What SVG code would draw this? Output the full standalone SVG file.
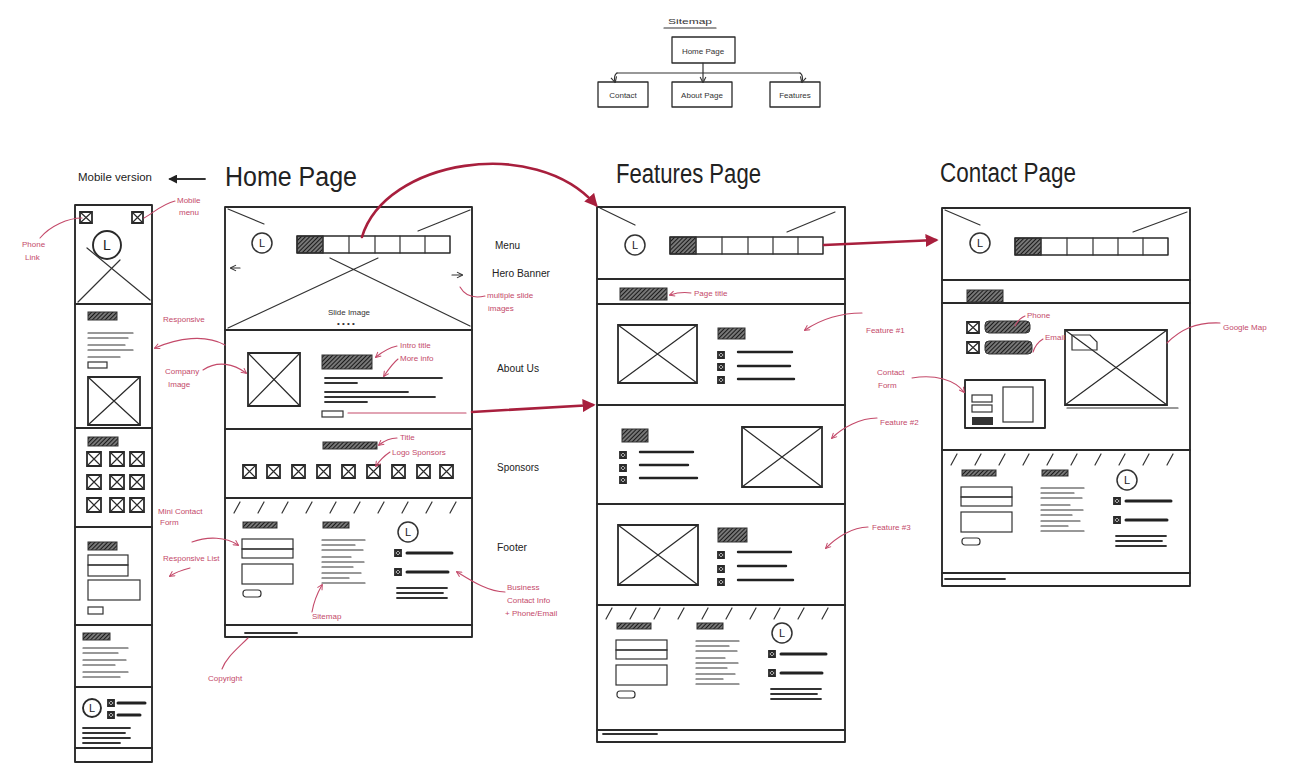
<svg xmlns="http://www.w3.org/2000/svg" xmlns:xlink="http://www.w3.org/1999/xlink" width="1304" height="765" viewBox="0 0 1304 765">
<style>
.f{fill:none;stroke:#2a2a2a;stroke-width:1.9;stroke-linecap:round;stroke-linejoin:round}
.t{fill:none;stroke:#333;stroke-width:1.2;stroke-linecap:round}
.k{fill:none;stroke:#222;stroke-width:3;stroke-linecap:round}
.m{fill:none;stroke:#333;stroke-width:1.8;stroke-linecap:round}
.h{fill:url(#hatch);stroke:#333;stroke-width:1}
.r{fill:none;stroke:#c44a6a;stroke-width:1.1;stroke-linecap:round}
.R{fill:none;stroke:#a81f3d;stroke-width:2.6;stroke-linecap:round}
.lbl{font-family:"Liberation Sans",Arial,sans-serif;font-size:10px;fill:#222}
.ttl{font-family:"Liberation Sans",Arial,sans-serif;font-size:27px;fill:#222}
.ann{font-family:"Liberation Sans",Arial,sans-serif;font-size:8px;fill:#c44a6a}
.sm{font-family:"Liberation Sans",Arial,sans-serif;font-size:8px;fill:#333}
.lg{font-family:"Liberation Sans",Arial,sans-serif;font-size:11px;fill:#222;text-anchor:middle}
</style>
<defs>
<pattern id="hatch" width="3" height="3" patternUnits="userSpaceOnUse" patternTransform="rotate(45)"><rect width="3" height="3" fill="#777"/><line x1="0" y1="0" x2="0" y2="3" stroke="#1a1a1a" stroke-width="2"/></pattern>
<marker id="aR" viewBox="0 0 10 10" refX="8" refY="5" markerWidth="5" markerHeight="5" orient="auto"><path d="M0,0 L10,5 L0,10 z" fill="#a81f3d"/></marker>
<marker id="ar" viewBox="0 0 10 10" refX="8" refY="5" markerWidth="6" markerHeight="6" orient="auto"><path d="M1,1 L9,5 L1,9" fill="none" stroke="#c44a6a" stroke-width="1.5"/></marker>
<marker id="aK" viewBox="0 0 10 10" refX="8" refY="5" markerWidth="5" markerHeight="5" orient="auto"><path d="M0,0 L10,5 L0,10 z" fill="#222"/></marker>
<marker id="ak" viewBox="0 0 10 10" refX="8" refY="5" markerWidth="6" markerHeight="6" orient="auto"><path d="M1,1 L9,5 L1,9" fill="none" stroke="#333" stroke-width="1.5"/></marker>
<symbol id="xbox" viewBox="0 0 100 100" preserveAspectRatio="none" overflow="visible">
<rect x="0" y="0" width="100" height="100" fill="none" stroke="#2a2a2a" stroke-width="1.8" vector-effect="non-scaling-stroke"/>
<path d="M0,0 L100,100 M100,0 L0,100" fill="none" stroke="#2a2a2a" stroke-width="1.2" vector-effect="non-scaling-stroke"/>
</symbol>
<g id="logo"><circle cx="0" cy="0" r="10" class="t" style="stroke-width:1.5"/><text x="0" y="4" class="lg">L</text></g>
<g id="nav">
<rect x="0" y="0" width="26" height="17" class="h"/>
<rect x="0" y="0" width="153" height="17" class="f" style="stroke-width:1.5"/>
<path d="M26,0 V17 M52,0 V17 M78,0 V17 M103,0 V17 M128,0 V17" class="t"/>
</g>
<g id="foot">
<rect x="0" y="0" width="34" height="6" class="h"/>
<rect x="-1" y="17" width="51" height="10" class="t"/>
<rect x="-1" y="27" width="51" height="9" class="t"/>
<rect x="-1" y="42" width="51" height="20" class="t"/>
<rect x="0" y="68" width="18" height="7" rx="3" class="t"/>
<rect x="80" y="0" width="26" height="6" class="h"/>
<path d="M79,18 H122 M79,23 H112 M79,28 H120 M79,35 H108 M79,40 H121 M79,45 H110 M79,51 H118 M79,56 H106 M79,61 H122" class="t"/>
<use href="#logo" x="165" y="10"/>
<use href="#xbox" x="152" y="28" width="6" height="6"/>
<path d="M164,31 H209" class="k"/>
<use href="#xbox" x="152" y="47" width="6" height="6"/>
<path d="M164,50 H205" class="k"/>
<path d="M154,66 H204 M154,71 H200 M154,76 H204" class="m"/>
</g>
<path id="slashes" d="M4,13 L10,2 M28,13 L34,2 M52,13 L58,2 M76,13 L82,2 M100,13 L106,2 M124,13 L130,2 M148,13 L154,2 M172,13 L178,2 M196,13 L202,2 M220,13 L226,2" class="t"/>
</defs>

<rect width="1304" height="765" fill="#ffffff"/>

<g id="sitemap">
<text x="668" y="24" class="sm" textLength="44" lengthAdjust="spacingAndGlyphs">Sitemap</text>
<path d="M664,28 H716" class="t"/>
<g id="sm-home"><rect x="672" y="37" width="63" height="26" class="f" style="stroke-width:1.3"/><text x="703" y="54" class="sm" text-anchor="middle">Home Page</text></g>
<g id="sm-contact"><rect x="598" y="82" width="50" height="25" class="f" style="stroke-width:1.3"/><text x="623" y="98" class="sm" text-anchor="middle">Contact</text></g>
<g id="sm-about"><rect x="672" y="82" width="60" height="25" class="f" style="stroke-width:1.3"/><text x="702" y="98" class="sm" text-anchor="middle">About Page</text></g>
<g id="sm-features"><rect x="770" y="82" width="50" height="25" class="f" style="stroke-width:1.3"/><text x="795" y="98" class="sm" text-anchor="middle">Features</text></g>
</g>

<g id="mobile">
<text x="78" y="181" class="lbl" textLength="74" lengthAdjust="spacingAndGlyphs">Mobile version</text>
<rect x="75" y="205" width="77" height="557" class="f"/>
<path d="M75,304 H152 M75,428 H152 M75,527 H152 M75,625 H152 M75,687 H152 M75,748 H152" class="f"/>
<use href="#xbox" x="80" y="212" width="12" height="11"/>
<use href="#xbox" x="132" y="212" width="11" height="11"/>
<circle cx="107" cy="245" r="14" class="f"/><text x="107" y="250" class="lg" style="font-size:14px">L</text>
<path d="M78,302 L120,260 M87,248 L150,300" class="t"/>
<rect x="88" y="312" width="29" height="8" class="h"/>
<path d="M88,333 H133 M88,338 H128 M88,345 H125 M88,350 H133 M88,357 H120" class="t"/>
<rect x="88" y="362" width="19" height="6" class="t"/>
<use href="#xbox" x="88" y="377" width="52" height="48"/>
<rect x="88" y="437" width="30" height="9" class="h"/>
<use href="#xbox" x="87" y="452" width="14" height="14"/><use href="#xbox" x="110" y="452" width="14" height="14"/><use href="#xbox" x="130" y="452" width="14" height="14"/>
<use href="#xbox" x="87" y="475" width="14" height="14"/><use href="#xbox" x="110" y="475" width="14" height="14"/><use href="#xbox" x="130" y="475" width="14" height="14"/>
<use href="#xbox" x="87" y="498" width="14" height="14"/><use href="#xbox" x="110" y="498" width="14" height="14"/><use href="#xbox" x="130" y="498" width="14" height="14"/>
<rect x="88" y="542" width="29" height="8" class="h"/>
<rect x="88" y="555" width="40" height="10" class="t"/>
<rect x="88" y="565" width="40" height="11" class="t"/>
<rect x="88" y="580" width="52" height="20" class="t"/>
<rect x="88" y="607" width="15" height="7" class="t"/>
<rect x="83" y="633" width="27" height="7" class="h"/>
<path d="M83,648 H128 M83,653 H118 M83,660 H126 M83,665 H115 M83,672 H128 M83,677 H120" class="t"/>
<circle cx="92" cy="708" r="9" class="f"/><text x="92" y="712" class="lg">L</text>
<use href="#xbox" x="108" y="700" width="6" height="6"/><path d="M118,703 H145" class="k"/>
<use href="#xbox" x="108" y="712" width="6" height="6"/><path d="M118,715 H140" class="k"/>
<path d="M83,728 H130 M83,733 H125 M83,738 H130 M83,743 H120" class="m"/>
</g>

<g id="home-page">
<text x="225" y="186" class="ttl" textLength="132" lengthAdjust="spacingAndGlyphs">Home Page</text>
<rect x="225" y="207" width="247" height="430" class="f"/>
<path d="M225,330 H472 M225,429 H472 M225,498 H472 M225,625 H472" class="f"/>
<path d="M228,209 L264,224 M470,210 L418,231 M228,328 L378,258 M330,258 L470,326" class="t"/>
<use href="#logo" x="262" y="243"/>
<use href="#nav" x="297" y="236"/>
<path d="M240,268 H231" class="t" marker-end="url(#ak)"/>
<path d="M452,275 H462" class="t" marker-end="url(#ak)"/>
<text x="328" y="315" class="sm" textLength="42" lengthAdjust="spacingAndGlyphs">Slide Image</text>
<text x="337" y="326" class="sm">• • • •</text>
<use href="#xbox" x="248" y="353" width="52" height="53"/>
<rect x="322" y="355" width="50" height="14" class="h"/>
<path d="M325,378 H442 M325,383 H357 M325,392 H408 M325,397 H435 M325,402 H367" class="m"/>
<rect x="322" y="411" width="21" height="6" class="t"/>
<rect x="323" y="442" width="54" height="7" class="h"/>
<use href="#xbox" x="243" y="465" width="13" height="13"/><use href="#xbox" x="267" y="465" width="13" height="13"/><use href="#xbox" x="292" y="465" width="13" height="13"/>
<use href="#xbox" x="317" y="465" width="13" height="13"/><use href="#xbox" x="342" y="465" width="13" height="13"/><use href="#xbox" x="367" y="465" width="13" height="13"/>
<use href="#xbox" x="392" y="465" width="13" height="13"/><use href="#xbox" x="417" y="465" width="13" height="13"/><use href="#xbox" x="440" y="465" width="13" height="13"/>
<use href="#slashes" x="230" y="500"/>
<use href="#foot" x="243" y="522"/>
<path d="M245,633 H297" class="m"/>
<text x="495" y="249" class="lbl" textLength="25" lengthAdjust="spacingAndGlyphs">Menu</text>
<text x="492" y="277" class="lbl" textLength="58" lengthAdjust="spacingAndGlyphs">Hero Banner</text>
<text x="497" y="372" class="lbl" textLength="42" lengthAdjust="spacingAndGlyphs">About Us</text>
<text x="497" y="471" class="lbl" textLength="42" lengthAdjust="spacingAndGlyphs">Sponsors</text>
<text x="497" y="551" class="lbl" textLength="30" lengthAdjust="spacingAndGlyphs">Footer</text>
</g>

<g id="features-page">
<text x="616" y="183" class="ttl" textLength="145" lengthAdjust="spacingAndGlyphs">Features Page</text>
<rect x="597" y="207" width="248" height="535" class="f"/>
<path d="M597,279 H845 M597,304 H845 M597,405 H845 M597,504 H845 M597,605 H845 M597,730 H845" class="f"/>
<path d="M600,208 L635,225 M835,212 L787,232" class="t"/>
<use href="#logo" x="635" y="245"/>
<use href="#nav" x="670" y="237"/>
<rect x="620" y="288" width="47" height="12" class="h"/>
<use href="#xbox" x="618" y="325" width="79" height="58"/>
<rect x="718" y="328" width="27" height="11" class="h"/>
<use href="#xbox" x="718" y="352" width="6" height="6"/><use href="#xbox" x="718" y="364" width="6" height="6"/><use href="#xbox" x="718" y="377" width="6" height="6"/>
<path d="M738,352 H792 M738,366 H790 M738,379 H794" class="k" style="stroke-width:2.4"/>
<rect x="622" y="429" width="26" height="13" class="h"/>
<use href="#xbox" x="620" y="452" width="6" height="6"/><use href="#xbox" x="620" y="465" width="6" height="6"/><use href="#xbox" x="620" y="477" width="6" height="6"/>
<path d="M640,452 H693 M640,465 H688 M640,478 H697" class="k" style="stroke-width:2.4"/>
<use href="#xbox" x="742" y="427" width="80" height="60"/>
<use href="#xbox" x="618" y="525" width="80" height="60"/>
<rect x="718" y="528" width="29" height="14" class="h"/>
<use href="#xbox" x="718" y="552" width="6" height="6"/><use href="#xbox" x="718" y="566" width="6" height="6"/><use href="#xbox" x="718" y="579" width="6" height="6"/>
<path d="M738,552 H791 M738,566 H786 M738,580 H793" class="k" style="stroke-width:2.4"/>
<use href="#slashes" x="602" y="606"/>
<use href="#foot" x="617" y="623"/>
<path d="M603,734 H657" class="m"/>
</g>

<g id="contact-page">
<text x="940" y="182" class="ttl" textLength="136" lengthAdjust="spacingAndGlyphs">Contact Page</text>
<rect x="942" y="208" width="248" height="378" class="f"/>
<path d="M942,280 H1190 M942,303 H1190 M942,450 H1190 M942,573 H1190" class="f"/>
<path d="M945,210 L980,225 M1187,212 L1133,232" class="t"/>
<use href="#logo" x="980" y="243"/>
<use href="#nav" x="1015" y="238"/>
<rect x="967" y="290" width="36" height="12" class="h"/>
<use href="#xbox" x="967" y="322" width="12" height="11"/>
<rect x="985" y="321" width="45" height="12" rx="4" class="h"/>
<use href="#xbox" x="967" y="342" width="12" height="11"/>
<rect x="985" y="341" width="47" height="13" rx="4" class="h"/>
<rect x="965" y="380" width="80" height="48" class="f"/>
<rect x="972" y="395" width="20" height="7" class="t"/>
<rect x="972" y="405" width="20" height="7" class="t"/>
<rect x="972" y="417" width="21" height="8" fill="#333"/>
<rect x="1003" y="387" width="30" height="35" class="t"/>
<use href="#xbox" x="1065" y="330" width="102" height="75"/>
<path d="M1067,408 H1178" class="t"/>
<path d="M1072,335 H1090 L1097,342 V350 H1072 Z" class="t" fill="#fff"/>
<use href="#slashes" x="947" y="452"/>
<use href="#foot" x="962" y="470"/>
<path d="M945,579 H1005" class="m"/>
</g>

<g id="annotations">
<text x="22" y="247" class="ann">Phone</text><text x="25" y="260" class="ann">Link</text>
<path d="M40,238 C50,226 68,218 82,218" class="r"/>
<text x="177" y="203" class="ann">Mobile</text><text x="179" y="215" class="ann">menu</text>
<path d="M175,201 C162,204 152,214 144,218" class="r"/>
<text x="163" y="322" class="ann">Responsive</text>
<path d="M225,345 C205,334 178,338 155,348" class="r" marker-end="url(#ar)"/>
<text x="165" y="374" class="ann">Company</text><text x="168" y="387" class="ann">Image</text>
<path d="M203,370 C218,360 234,364 246,373" class="r" marker-end="url(#ar)"/>
<text x="158" y="514" class="ann">Mini Contact</text><text x="160" y="525" class="ann">Form</text>
<path d="M192,542 C208,536 226,537 238,545" class="r" marker-end="url(#ar)"/>
<text x="163" y="561" class="ann">Responsive List</text>
<path d="M190,568 C182,570 176,572 170,576" class="r" marker-end="url(#ar)"/>
<text x="208" y="681" class="ann">Copyright</text>
<path d="M248,638 C236,650 226,658 222,669" class="r"/>
<text x="312" y="619" class="ann">Sitemap</text>
<path d="M312,612 C314,600 318,592 322,585" class="r" marker-end="url(#ar)"/>
<text x="400" y="348" class="ann">Intro title</text>
<path d="M397,346 C388,348 382,352 376,357" class="r" marker-end="url(#ar)"/>
<text x="400" y="361" class="ann">More info</text>
<path d="M398,359 C392,364 388,370 384,376" class="r" marker-end="url(#ar)"/>
<text x="400" y="440" class="ann">Title</text>
<path d="M397,438 C390,438 384,441 379,445" class="r" marker-end="url(#ar)"/>
<text x="392" y="455" class="ann">Logo Sponsors</text>
<path d="M390,452 C384,456 380,460 376,466" class="r" marker-end="url(#ar)"/>
<text x="487" y="298" class="ann">multiple slide</text><text x="488" y="311" class="ann">images</text>
<path d="M485,296 C472,299 464,294 460,287" class="r"/>
<text x="507" y="590" class="ann">Business</text><text x="507" y="603" class="ann">Contact Info</text><text x="505" y="616" class="ann">+ Phone/Email</text>
<path d="M505,592 C488,592 470,580 457,572" class="r" marker-end="url(#ar)"/>
<path d="M348,413 H466" class="r"/>
<text x="694" y="296" class="ann">Page title</text>
<path d="M691,293 C684,292 676,293 670,295" class="r" marker-end="url(#ar)"/>
<text x="866" y="333" class="ann">Feature #1</text>
<path d="M862,313 C840,313 820,320 805,330" class="r" marker-end="url(#ar)"/>
<text x="880" y="425" class="ann">Feature #2</text>
<path d="M877,418 C860,418 842,428 832,438" class="r" marker-end="url(#ar)"/>
<text x="872" y="530" class="ann">Feature #3</text>
<path d="M868,527 C852,527 836,538 826,548" class="r" marker-end="url(#ar)"/>
<text x="1027" y="318" class="ann">Phone</text>
<path d="M1025,316 C1020,318 1017,322 1015,326" class="r"/>
<text x="1045" y="340" class="ann">Email</text>
<path d="M1043,339 C1038,342 1035,346 1033,352" class="r"/>
<text x="1223" y="330" class="ann">Google Map</text>
<path d="M1220,323 C1195,322 1180,330 1167,343" class="r"/>
<text x="877" y="375" class="ann">Contact</text><text x="878" y="388" class="ann">Form</text>
<path d="M912,378 C935,374 955,380 964,392" class="r" marker-end="url(#ar)"/>
</g>

<g id="connectors">
<path d="M703,63 V82" class="t" marker-end="url(#ak)"/>
<path d="M617,73 H800" class="t"/>
<path d="M617,73 C614,75 614,78 615,82" class="t" marker-end="url(#ak)"/>
<path d="M800,73 C803,75 803,78 802,82" class="t" marker-end="url(#ak)"/>
<path d="M205,179 H170" class="m" marker-end="url(#aK)"/>
<path d="M362,237 C385,160 535,135 596,205" class="R" marker-end="url(#aR)"/>
<path d="M472,412 L593,405" class="R" marker-end="url(#aR)"/>
<path d="M824,245 L936,240" class="R" marker-end="url(#aR)"/>
</g>
</svg>
